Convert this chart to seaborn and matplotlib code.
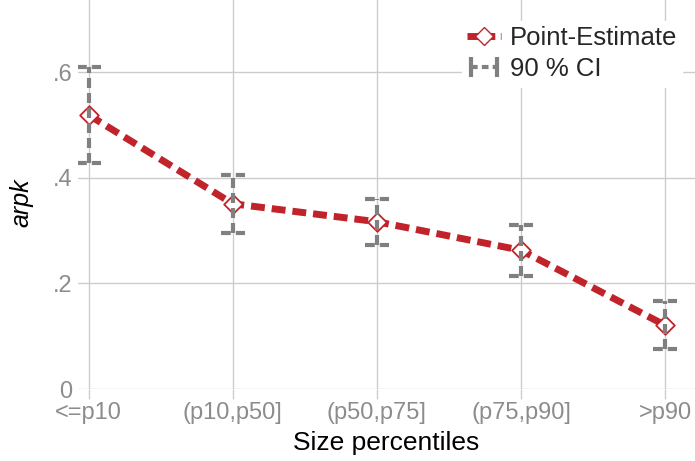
import numpy as np
import matplotlib
matplotlib.use("Agg")
import matplotlib.pyplot as plt
import seaborn as sns
import pandas as pd
from matplotlib.lines import Line2D
from matplotlib.collections import LineCollection
from matplotlib.container import ErrorbarContainer

# ------------------------------------------------------
# Data
# ------------------------------------------------------
categories = ["<=p10", "(p10,p50]", "(p50,p75]", "(p75,p90]", ">p90"]
point_est = [0.519, 0.351, 0.317, 0.263, 0.121]
ci_low = [0.428, 0.296, 0.273, 0.214, 0.076]
ci_high = [0.610, 0.406, 0.360, 0.311, 0.167]
y_ticks = [0, 0.2, 0.4, 0.6]
y_ticklabels = ["0", ".2", ".4", ".6"]

RED = "#c1232b"
GRAY = "#808080"
GRID = "#cccccc"
TICKTXT = "#8c8c8c"

sns.set_style("white")
plt.rcParams["font.family"] = ["Liberation Sans", "DejaVu Sans"]

df = pd.DataFrame({"pos": np.arange(len(categories)), "est": point_est,
                   "lo": ci_low, "hi": ci_high})

fig = plt.figure(figsize=(6.95, 4.61), dpi=100)
ax = fig.add_axes([0.112, 0.156, 0.888, 0.844])

# point estimate line
sns.lineplot(data=df, x="pos", y="est", ax=ax, color=RED, linewidth=5,
             zorder=2)
ax.lines[0].set_dashes([2.0, 1.0])
ax.scatter(df["pos"], df["est"], marker="D", s=90, facecolor="white",
           edgecolor=RED, linewidth=1.3, zorder=3)

# CI bars (dashed, with dashed caps split in the middle)
ax.vlines(df["pos"], df["lo"], df["hi"], color=GRAY, linewidth=3,
          linestyles=(0, (2.4, 1.2)), zorder=4)
cap = 0.085
for col in ["lo", "hi"]:
    ax.hlines(df[col], df["pos"] - cap, df["pos"] + cap, color=GRAY,
              linewidth=3, linestyles=(0, (2.35, 1.2)), zorder=4)

ax.set_xlim(-0.076, 4.208)
ax.set_ylim(0, 0.737)
ax.set_xticks(df["pos"])
ax.set_xticklabels(categories)
ax.set_yticks(y_ticks)
ax.set_yticklabels(y_ticklabels)
for sp in ax.spines.values():
    sp.set_visible(False)
ax.grid(True, color=GRID, linewidth=1)
ax.set_axisbelow(True)
ax.tick_params(axis="x", length=7, width=1, color=GRID, labelcolor=TICKTXT,
               labelsize=17, pad=2, bottom=True)
ax.tick_params(axis="y", length=0, labelcolor=TICKTXT, labelsize=17,
               pad=4, left=True)

ax.set_xlabel("Size percentiles", fontsize=19, color="black", labelpad=5)
ax.set_ylabel("arpk", fontsize=18, fontstyle="italic", color="black")
ax.yaxis.set_label_coords(-0.072, 0.48)

# legend
h_est = Line2D([], [], color=RED, linewidth=5, dashes=[1.6, 0.8],
               marker="D", markersize=9, markerfacecolor="white",
               markeredgecolor=RED)
capline = Line2D([], [], color=GRAY, marker="|", markersize=14,
                 markeredgewidth=3, linestyle="none")
barcol = LineCollection([], colors=GRAY, linewidths=3,
                        linestyles=(0, (1.6, 1.0)))
h_ci = ErrorbarContainer((None, (capline,), (barcol,)), has_xerr=True,
                         has_yerr=False)
leg = ax.legend([h_est, h_ci], ["Point-Estimate", "90 % CI"],
                loc="upper right", fontsize=18.5, frameon=True,
                framealpha=1, edgecolor="white", facecolor="white",
                fancybox=False, handlelength=1.3, handletextpad=0.35,
                borderpad=0.2, labelspacing=0.3,
                bbox_to_anchor=(1.0, 0.98))

fig.savefig("out.png", dpi=100)
